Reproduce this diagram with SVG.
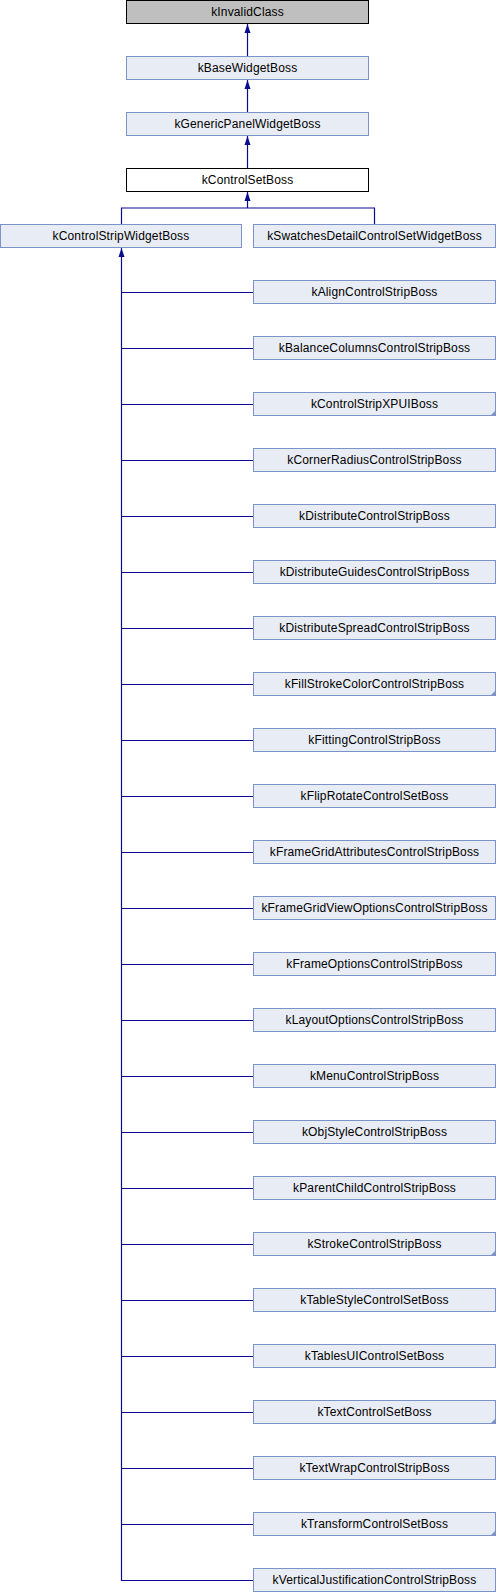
<svg xmlns="http://www.w3.org/2000/svg" width="496" height="1592" viewBox="0 0 496 1592">
<style>
.n rect{fill:#e8ecf5;stroke:#7b93c8;stroke-width:1}
.n text{font-family:"Liberation Sans",Arial,sans-serif;font-size:12px;letter-spacing:0.15px;fill:#000;text-anchor:middle}
.f{fill:#7b93c8}
.e{stroke:#0b0b8f;stroke-width:1.2;fill:none}
.h{fill:#0b0b8f}
</style>
<g id="edges">
<line class="e" x1="247.5" y1="56" x2="247.5" y2="24"/>
<line class="e" x1="247.5" y1="112" x2="247.5" y2="80"/>
<line class="e" x1="247.5" y1="168" x2="247.5" y2="136"/>
<path class="e" d="M121.5,224 V208 H374.5 V224"/>
<line class="e" x1="247.5" y1="208" x2="247.5" y2="192"/>
<path class="h" d="M244.5,201 L247.5,192 L250.5,201 Z"/>
<path class="h" d="M244.5,33 L247.5,24 L250.5,33 Z"/>
<path class="h" d="M244.5,89 L247.5,80 L250.5,89 Z"/>
<path class="h" d="M244.5,145 L247.5,136 L250.5,145 Z"/>
<path class="e" d="M121.5,248 V1580.5 H253"/>
<path class="h" d="M118.5,257 L121.5,248 L124.5,257 Z"/>
<path class="e" d="M121.5,292.5 H253 M121.5,348.5 H253 M121.5,404.5 H253 M121.5,460.5 H253 M121.5,516.5 H253 M121.5,572.5 H253 M121.5,628.5 H253 M121.5,684.5 H253 M121.5,740.5 H253 M121.5,796.5 H253 M121.5,852.5 H253 M121.5,908.5 H253 M121.5,964.5 H253 M121.5,1020.5 H253 M121.5,1076.5 H253 M121.5,1132.5 H253 M121.5,1188.5 H253 M121.5,1244.5 H253 M121.5,1300.5 H253 M121.5,1356.5 H253 M121.5,1412.5 H253 M121.5,1468.5 H253 M121.5,1524.5 H253"/>
</g>
<g id="kInvalidClass" class="n"><rect x="126.5" y="0.5" width="242" height="23" style="fill:#bfbfbf;stroke:#000"/><text x="247.5" y="16">kInvalidClass</text></g>
<g id="kBaseWidgetBoss" class="n"><rect x="126.5" y="56.5" width="242" height="23"/><text x="247.5" y="72">kBaseWidgetBoss</text></g>
<g id="kGenericPanelWidgetBoss" class="n"><rect x="126.5" y="112.5" width="242" height="23"/><text x="247.5" y="128">kGenericPanelWidgetBoss</text></g>
<g id="kControlSetBoss" class="n"><rect x="126.5" y="168.5" width="242" height="23" style="fill:#fff;stroke:#000"/><text x="247.5" y="184">kControlSetBoss</text></g>
<g id="kControlStripWidgetBoss" class="n"><rect x="0.5" y="224.5" width="241" height="23"/><text x="121" y="240">kControlStripWidgetBoss</text></g>
<g id="kSwatchesDetailControlSetWidgetBoss" class="n"><rect x="253.5" y="224.5" width="242" height="23"/><text x="374.5" y="240">kSwatchesDetailControlSetWidgetBoss</text></g>
<g id="kAlignControlStripBoss" class="n"><rect x="253.5" y="280.5" width="242" height="23"/><text x="374.5" y="296">kAlignControlStripBoss</text></g>
<g id="kBalanceColumnsControlStripBoss" class="n"><rect x="253.5" y="336.5" width="242" height="23"/><text x="374.5" y="352">kBalanceColumnsControlStripBoss</text></g>
<g id="kControlStripXPUIBoss" class="n"><rect x="253.5" y="392.5" width="242" height="23"/><path class="f" d="M496,410 V416 H490 Z"/><text x="374.5" y="408">kControlStripXPUIBoss</text></g>
<g id="kCornerRadiusControlStripBoss" class="n"><rect x="253.5" y="448.5" width="242" height="23"/><text x="374.5" y="464">kCornerRadiusControlStripBoss</text></g>
<g id="kDistributeControlStripBoss" class="n"><rect x="253.5" y="504.5" width="242" height="23"/><text x="374.5" y="520">kDistributeControlStripBoss</text></g>
<g id="kDistributeGuidesControlStripBoss" class="n"><rect x="253.5" y="560.5" width="242" height="23"/><text x="374.5" y="576">kDistributeGuidesControlStripBoss</text></g>
<g id="kDistributeSpreadControlStripBoss" class="n"><rect x="253.5" y="616.5" width="242" height="23"/><text x="374.5" y="632">kDistributeSpreadControlStripBoss</text></g>
<g id="kFillStrokeColorControlStripBoss" class="n"><rect x="253.5" y="672.5" width="242" height="23"/><path class="f" d="M496,690 V696 H490 Z"/><text x="374.5" y="688">kFillStrokeColorControlStripBoss</text></g>
<g id="kFittingControlStripBoss" class="n"><rect x="253.5" y="728.5" width="242" height="23"/><text x="374.5" y="744">kFittingControlStripBoss</text></g>
<g id="kFlipRotateControlSetBoss" class="n"><rect x="253.5" y="784.5" width="242" height="23"/><text x="374.5" y="800">kFlipRotateControlSetBoss</text></g>
<g id="kFrameGridAttributesControlStripBoss" class="n"><rect x="253.5" y="840.5" width="242" height="23"/><text x="374.5" y="856">kFrameGridAttributesControlStripBoss</text></g>
<g id="kFrameGridViewOptionsControlStripBoss" class="n"><rect x="253.5" y="896.5" width="242" height="23"/><text x="374.5" y="912">kFrameGridViewOptionsControlStripBoss</text></g>
<g id="kFrameOptionsControlStripBoss" class="n"><rect x="253.5" y="952.5" width="242" height="23"/><text x="374.5" y="968">kFrameOptionsControlStripBoss</text></g>
<g id="kLayoutOptionsControlStripBoss" class="n"><rect x="253.5" y="1008.5" width="242" height="23"/><text x="374.5" y="1024">kLayoutOptionsControlStripBoss</text></g>
<g id="kMenuControlStripBoss" class="n"><rect x="253.5" y="1064.5" width="242" height="23"/><text x="374.5" y="1080">kMenuControlStripBoss</text></g>
<g id="kObjStyleControlStripBoss" class="n"><rect x="253.5" y="1120.5" width="242" height="23"/><text x="374.5" y="1136">kObjStyleControlStripBoss</text></g>
<g id="kParentChildControlStripBoss" class="n"><rect x="253.5" y="1176.5" width="242" height="23"/><text x="374.5" y="1192">kParentChildControlStripBoss</text></g>
<g id="kStrokeControlStripBoss" class="n"><rect x="253.5" y="1232.5" width="242" height="23"/><path class="f" d="M496,1250 V1256 H490 Z"/><text x="374.5" y="1248">kStrokeControlStripBoss</text></g>
<g id="kTableStyleControlSetBoss" class="n"><rect x="253.5" y="1288.5" width="242" height="23"/><text x="374.5" y="1304">kTableStyleControlSetBoss</text></g>
<g id="kTablesUIControlSetBoss" class="n"><rect x="253.5" y="1344.5" width="242" height="23"/><text x="374.5" y="1360">kTablesUIControlSetBoss</text></g>
<g id="kTextControlSetBoss" class="n"><rect x="253.5" y="1400.5" width="242" height="23"/><path class="f" d="M496,1418 V1424 H490 Z"/><text x="374.5" y="1416">kTextControlSetBoss</text></g>
<g id="kTextWrapControlStripBoss" class="n"><rect x="253.5" y="1456.5" width="242" height="23"/><text x="374.5" y="1472">kTextWrapControlStripBoss</text></g>
<g id="kTransformControlSetBoss" class="n"><rect x="253.5" y="1512.5" width="242" height="23"/><path class="f" d="M496,1530 V1536 H490 Z"/><text x="374.5" y="1528">kTransformControlSetBoss</text></g>
<g id="kVerticalJustificationControlStripBoss" class="n"><rect x="253.5" y="1568.5" width="242" height="23"/><text x="374.5" y="1584">kVerticalJustificationControlStripBoss</text></g>
</svg>
